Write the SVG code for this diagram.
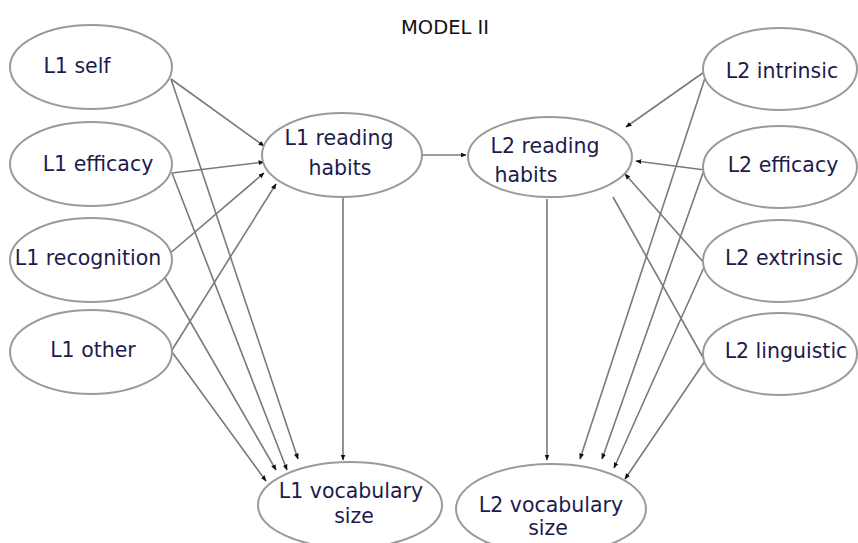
<svg xmlns="http://www.w3.org/2000/svg" width="858" height="543" viewBox="0 0 858 543">
  <style>
    .node ellipse { fill: #ffffff; stroke: #9a9a9a; stroke-width: 2; }
    .node text { font-family: "DejaVu Sans", Verdana, sans-serif; font-size: 20.5px; fill: #1c1c4c; text-anchor: middle; }
    .title { font-family: "DejaVu Sans", Verdana, sans-serif; font-size: 19.5px; fill: #111111; text-anchor: middle; }
    .edges line { stroke: #7a7a7a; stroke-width: 1.6; fill: none; }
    .edges line.arr { marker-end: url(#head); }
  </style>
  <defs>
    <marker id="head" viewBox="0 0 10 10" refX="9" refY="5" markerWidth="6" markerHeight="6" markerUnits="userSpaceOnUse" orient="auto">
      <path d="M0,1 L10,5 L0,9 Z" fill="#111111"/>
    </marker>
  </defs>
  <rect width="858" height="543" fill="#ffffff"/>

  <text class="title" x="445" y="34">MODEL II</text>

  <!-- connectors -->
  <g class="edges">
    <!-- L1 predictors to L1 reading habits -->
    <line class="arr" x1="171" y1="79" x2="264" y2="146"/>
    <line class="arr" x1="172" y1="173" x2="264" y2="162"/>
    <line class="arr" x1="168" y1="255" x2="264" y2="173"/>
    <line class="arr" x1="172" y1="350" x2="276" y2="184"/>
    <!-- L1 predictors to L1 vocabulary size -->
    <line class="arr" x1="171" y1="79" x2="298" y2="459"/>
    <line class="arr" x1="172" y1="173" x2="287" y2="470"/>
    <line class="arr" x1="165" y1="278" x2="276" y2="470"/>
    <line class="arr" x1="172" y1="352" x2="266" y2="481"/>
    <!-- reading habits links -->
    <line class="arr" x1="422" y1="155" x2="466" y2="155"/>
    <line class="arr" x1="343" y1="197" x2="343" y2="460"/>
    <line class="arr" x1="547" y1="199" x2="547" y2="460"/>
    <!-- L2 predictors to L2 reading habits -->
    <line class="arr" x1="707" y1="70" x2="626" y2="127"/>
    <line class="arr" x1="705" y1="170" x2="636" y2="161"/>
    <line class="arr" x1="705" y1="264" x2="625" y2="174"/>
    <line x1="613" y1="197" x2="705" y2="361"/>
    <!-- L2 predictors to L2 vocabulary size -->
    <line class="arr" x1="707" y1="72" x2="580" y2="459"/>
    <line class="arr" x1="704" y1="170" x2="602" y2="459"/>
    <line class="arr" x1="705" y1="265" x2="614" y2="468"/>
    <line class="arr" x1="705" y1="361" x2="625" y2="479"/>
  </g>

  <!-- L1 predictors -->
  <g id="l1-self" class="node">
    <ellipse cx="91" cy="67" rx="81" ry="42"/>
    <text x="77" y="73">L1 self</text>
  </g>
  <g id="l1-efficacy" class="node">
    <ellipse cx="91" cy="164" rx="81" ry="42"/>
    <text x="98" y="171">L1 efficacy</text>
  </g>
  <g id="l1-recognition" class="node">
    <ellipse cx="91" cy="260" rx="81" ry="42"/>
    <text x="88" y="265">L1 recognition</text>
  </g>
  <g id="l1-other" class="node">
    <ellipse cx="91" cy="352" rx="81" ry="42"/>
    <text x="93" y="357">L1 other</text>
  </g>

  <!-- reading habits -->
  <g id="l1-reading" class="node">
    <ellipse cx="342" cy="155" rx="80" ry="42"/>
    <text x="339" y="145">L1 reading</text>
    <text x="340" y="175">habits</text>
  </g>
  <g id="l2-reading" class="node">
    <ellipse cx="550" cy="157" rx="82" ry="40"/>
    <text x="545" y="153">L2 reading</text>
    <text x="526" y="182">habits</text>
  </g>

  <!-- L2 predictors -->
  <g id="l2-intrinsic" class="node">
    <ellipse cx="780" cy="69" rx="77" ry="41"/>
    <text x="782" y="78">L2 intrinsic</text>
  </g>
  <g id="l2-efficacy" class="node">
    <ellipse cx="780" cy="167" rx="77" ry="41"/>
    <text x="783" y="172">L2 efficacy</text>
  </g>
  <g id="l2-extrinsic" class="node">
    <ellipse cx="780" cy="261" rx="77" ry="41"/>
    <text x="784" y="265">L2 extrinsic</text>
  </g>
  <g id="l2-linguistic" class="node">
    <ellipse cx="780" cy="354" rx="77" ry="41"/>
    <text x="786" y="358">L2 linguistic</text>
  </g>

  <!-- outcomes -->
  <g id="l1-vocab" class="node">
    <ellipse cx="350" cy="505" rx="92" ry="43"/>
    <text x="351" y="498">L1 vocabulary</text>
    <text x="354" y="523">size</text>
  </g>
  <g id="l2-vocab" class="node">
    <ellipse cx="551" cy="509" rx="95" ry="45"/>
    <text x="551" y="512">L2 vocabulary</text>
    <text x="548" y="535">size</text>
  </g>
</svg>
